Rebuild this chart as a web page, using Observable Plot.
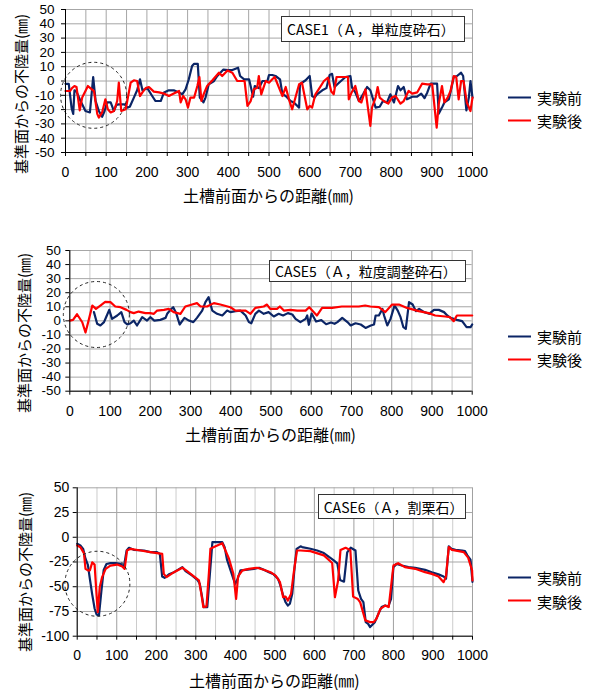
<!DOCTYPE html>
<html><head><meta charset="utf-8">
<script src="https://cdn.jsdelivr.net/npm/d3@7"></script>
<script src="https://cdn.jsdelivr.net/npm/@observablehq/plot@0.6"></script>
<style>
body{margin:0;background:#fff;}
#root{position:relative;width:594px;height:690px;overflow:hidden;font-family:"Noto Sans CJK JP",sans-serif;color:#000;background:#fff;}
.panel{position:absolute;left:0;}
.xt{position:absolute;transform:translate(-50%,-50%);font-size:16px;white-space:nowrap;line-height:16px;height:16px;}
.yt{position:absolute;transform:translate(-50%,-50%) rotate(-90deg);font-size:15px;white-space:nowrap;line-height:15px;height:15px;}
.box{position:absolute;border:1px solid #333;background:#fff;font-size:14px;box-sizing:border-box;padding-left:5px;display:flex;align-items:center;white-space:nowrap;line-height:1;}
.leg{position:absolute;font-size:15px;display:flex;align-items:center;white-space:nowrap;transform:translateY(-50%);line-height:1;}
.leg .sw{display:inline-block;width:23px;height:2px;margin-right:6px;}
</style></head><body><div id="root"></div><script>
// ---- data ----
const seriesNames = ["実験前", "実験後"];
const xAxisTitle = "土槽前面からの距離(㎜)";
const yAxisTitle = "基準面からの不陸量(㎜)";
const caseTitles = ["CASE1（Ａ，単粒度砕石）", "CASE5（Ａ，粒度調整砕石）", "CASE6（Ａ，割栗石）"];
const xLabelTicks = [0,100,200,300,400,500,600,700,800,900,1000];
const xMinorTicks = [0,50,100,150,200,250,300,350,400,450,500,550,600,650,700,750,800,850,900,950,1000];
const xHalfTicks = [50,150,250,350,450,550,650,750,850,950];
const yTicks50 = [-50,-40,-30,-20,-10,0,10,20,30,40,50];
const yTicks100 = [-100,-75,-50,-25,0,25,50];
const circleCenters = [[69,-10],[66,4.5],[51,-47]];

const case1Before = [[0,-2],[8,-2],[15,-19],[19,-23],[22,-6.5],[27,-7.4],[37,-14],[49,-21],[60,-22],[68,2.8],[74,-14],[82,-21],[90,-25],[96,-21],[102,-15],[111,-15],[119,-21],[125,-16.7],[131,-16.3],[145,-16.3],[152,-18.6],[158,-18],[168,-11.6],[176,-6.5],[183,1.2],[189,-6.5],[201,-5],[213,-10.5],[221,-14],[234,-14],[242,-8],[254,-6.5],[266,-6.5],[279,-8],[287,-9.3],[295,-5.8],[303,1.2],[311,10.5],[316,12],[325,12],[330,-11.6],[339,-15],[344,-11.6],[352,-2.3],[365,0],[373,3.5],[388,8],[399,7.7],[410,7.7],[424,9.3],[429,3.5],[439,1.2],[451,1.2],[461,-11],[465,-3.5],[475,-5],[484,0],[496,0],[500,4.2],[508,4.2],[516,3.5],[527,1.2],[533,-9.3],[541,-10.5],[553,-14],[561,-15],[574,-18.6],[576,-2.3],[581,-1.2],[590,0.5],[600,3.5],[606,-10.5],[612,-11.6],[618,-9.3],[631,-6.5],[641,-5],[649,4.2],[655,5],[661,-4.2],[672,-1.2],[688,2.8],[700,3.5],[704,-4.7],[712,-8],[721,-14],[731,-9.3],[741,-4.2],[749,-6.5],[762,-18.6],[772,-18],[780,-14],[790,-15],[798,-9.3],[807,-15],[817,-3.5],[823,-6.5],[831,-4.2],[839,-12.8],[852,-11],[864,-11],[874,-8.8],[882,-12],[889,-8],[897,-1.9],[905,-1.9],[913,-1.9],[917,-22.8],[925,-18.6],[931,-15],[942,-12.8],[947,-6.5],[954,2.8],[962,3.5],[972,5.8],[977,3.5],[985,-20.5],[991,-11.6],[995,0],[1000,-11.6]];
const case1After = [[0,-7],[11,-7],[16,-5],[22,-3.5],[27,-4.2],[35,-20.5],[41,-11.6],[49,-7],[55,-3.5],[61,-5],[70,-7],[78,-23],[82,-25.6],[90,-22],[98,-12.8],[104,-19.8],[111,-22],[119,-21],[127,-14],[131,-1.2],[137,-21],[148,-19.8],[160,-1.2],[168,0.5],[176,0],[183,-10.5],[189,-8],[197,-5],[205,-4.2],[217,-7.4],[230,-8],[242,-8.8],[254,-10.5],[266,-8.8],[279,-7],[283,-15],[289,-10.5],[295,-12.8],[301,-18.6],[307,-11.6],[316,-11.6],[324,-3.5],[329,2.8],[334,-14],[340,-8.8],[348,-3.5],[361,0.5],[377,5.8],[385,3.5],[398,7.4],[410,5.8],[422,0],[440,0],[447,-17.4],[455,-14],[463,-5.8],[471,-4.7],[475,3.5],[481,-9.3],[492,0],[500,-1.2],[508,1.2],[514,2.8],[525,-5],[533,-10.5],[541,-4.2],[549,-12.8],[557,-19.8],[566,-10.5],[574,-2.3],[581,-1.2],[594,-19.8],[600,-17.4],[606,-18.6],[614,-9.3],[622,-5.8],[635,0],[645,2.3],[653,-7.4],[659,-9.3],[666,2.8],[684,2.8],[694,2.8],[696,-12.8],[703,-8],[712,-3.5],[721,-14],[727,-15],[737,-5.8],[749,-31.4],[753,-18.6],[762,-11.6],[767,-4.2],[772,-11.6],[782,-14],[793,-15.8],[802,-11.6],[811,-10.5],[823,-15.8],[831,-14],[843,-7],[852,-8.8],[864,-8],[876,-1.9],[889,-2.3],[901,-2.3],[912,-32.6],[917,-16.3],[925,-3.5],[931,-15],[939,-11.6],[946,-7],[954,3.5],[960,2.8],[966,-12.8],[972,0],[978,0],[986,-15],[995,-21],[1000,-11.6]];

const case5Before = [[60,6.2],[68,-2.1],[76,-3.3],[85,-0.9],[91,3.1],[98,7.8],[105,1.4],[118,3.8],[128,6.2],[136,-0.9],[143,-2.6],[151,-1.7],[159,0.2],[167,-3.3],[180,2.6],[192,0.2],[200,2.6],[210,0.2],[225,0.7],[238,2.1],[242,5],[250,7.8],[257,9.7],[265,5],[273,-2.6],[285,2.1],[296,0.2],[307,-0.9],[316,2.1],[329,7.3],[337,13.3],[345,16.8],[354,7.3],[366,5],[379,3.8],[391,7.3],[399,6.2],[412,6.9],[424,7.3],[437,3.8],[445,-0.9],[451,-1.7],[461,5],[470,7.3],[482,5],[494,6.2],[507,3.1],[519,5],[530,3.8],[542,5.5],[553,4.5],[561,1.4],[573,-0.9],[586,1.4],[590,3.8],[594,-2.8],[601,5.2],[612,-0.5],[625,0.5],[637,-2.4],[649,-1.2],[658,-2.1],[665,-0.9],[677,2.1],[690,-0.9],[698,-3.3],[710,-1.7],[723,-2.6],[735,-5],[748,-3.3],[756,-2.6],[760,3.8],[768,3.8],[777,8.5],[781,3.8],[789,-3.3],[797,1.4],[807,10.9],[815,7.3],[822,2.6],[829,-4.5],[835,-5.7],[843,13.3],[852,11.6],[860,6.9],[868,8.5],[881,6.2],[893,5],[905,7.8],[917,7.8],[930,6.2],[938,3.8],[946,2.1],[962,0.7],[975,-0.2],[986,-4.5],[996,-4.5],[1000,-2.6]];
const case5After = [[0,0.2],[8,0.7],[18,4.7],[31,-1],[39,-8.3],[45,-1.7],[56,10.9],[65,8.5],[76,10.9],[88,13.5],[101,13.3],[113,10.2],[126,9.7],[141,7.8],[151,6.2],[159,5.5],[171,6.6],[188,5.5],[200,5.5],[209,5],[217,7.3],[234,7.8],[246,8.5],[258,6.2],[275,5],[287,10.2],[304,11.6],[316,12.6],[325,10.2],[341,10.2],[358,12.6],[374,11.6],[399,9.7],[412,7.3],[437,7.3],[449,5],[461,9.2],[482,10.2],[490,11.6],[498,8.5],[515,8.5],[522,10.2],[532,7.3],[548,7.8],[565,7.3],[586,7.3],[595,9.7],[614,3.8],[627,9.2],[652,9.2],[676,10.2],[718,10.2],[734,10.9],[747,10.2],[768,9.7],[784,6.2],[801,11.6],[818,11.6],[838,9.2],[867,6.9],[892,5.5],[908,3.8],[933,3.1],[945,2.6],[954,-0.2],[962,3.8],[974,3.8],[1000,3.8]];

const case6Before = [[0,-6.6],[8,-8.3],[15,-11.7],[21,-21.7],[27,-28],[32,-42],[38,-58],[44,-72],[49,-78],[55,-79],[61,-55],[67,-33],[74,-27],[84,-26.2],[97,-26.2],[110,-26.9],[118,-30],[125,-13.4],[131,-10.7],[143,-12.7],[169,-13.4],[185,-15],[202,-15],[209,-16.8],[215,-39.7],[221,-41],[232,-37.5],[245,-35.3],[266,-30.2],[274,-34.3],[291,-38.7],[304,-43],[310,-47],[316,-60.6],[320,-70.6],[329,-70.6],[336,-35.3],[342,-4.9],[354,-4.9],[367,-4.9],[373,-10],[379,-22.7],[388,-33.5],[396,-43],[400,-47],[405,-43],[413,-33.5],[426,-32.9],[447,-31.9],[460,-30.8],[472,-32.9],[485,-35.3],[497,-37.5],[508,-41.9],[514,-48.6],[521,-58.8],[527,-65.6],[533,-69],[538,-67.2],[544,-57.2],[550,-30.2],[555,-11.7],[565,-9.2],[569,-9.9],[590,-11.6],[607,-13.4],[624,-16],[637,-19.9],[649,-23.3],[658,-26.4],[665,-43.2],[675,-44.9],[683,-15.3],[692,-10.6],[704,-13.4],[711,-53.8],[718,-62.2],[724,-65.6],[730,-85.8],[736,-87.5],[741,-90.8],[753,-85.8],[762,-77.4],[770,-70.6],[779,-68.9],[787,-70],[794,-62.2],[800,-30.2],[808,-26.9],[821,-28.5],[838,-30.2],[855,-30.8],[880,-32.9],[897,-35.3],[914,-37.5],[927,-39.6],[933,-42],[940,-9.2],[947,-11.6],[957,-12.7],[974,-13.4],[981,-14],[987,-18.3],[995,-22.7],[1000,-45]];
const case6After = [[0,-8.3],[8,-10],[17,-16],[21,-32],[27,-33.5],[32,-33.5],[38,-25.4],[44,-27.6],[49,-58.8],[52,-75.6],[57,-50.3],[63,-40.3],[72,-31.9],[84,-28.6],[101,-27.6],[114,-29.6],[120,-32],[126,-13.4],[135,-11.7],[160,-13.4],[185,-15],[215,-16.8],[219,-37],[226,-40.3],[245,-35.3],[266,-30.8],[278,-34.3],[295,-39.6],[308,-43.6],[314,-57.2],[319,-70.6],[327,-69.9],[333,-37],[337,-11.7],[350,-9.2],[367,-6],[375,-13.4],[384,-21.7],[395,-37],[402,-62.2],[407,-39.6],[418,-33.5],[434,-31.9],[455,-30.8],[472,-32.9],[489,-35.3],[502,-38.7],[513,-45.4],[521,-60.6],[527,-59.9],[533,-64],[541,-57.2],[548,-35.3],[556,-13.4],[565,-13.4],[590,-14],[624,-18.3],[645,-26],[652,-60.6],[660,-43.8],[666,-13],[679,-10.6],[691,-13],[698,-60],[710,-62.5],[716,-65.8],[729,-84],[741,-85.8],[750,-85.8],[757,-82.4],[767,-72.4],[779,-69],[788,-70.6],[800,-28.6],[812,-26.2],[829,-30.2],[855,-31.9],[880,-35.3],[897,-37],[914,-39.6],[927,-45.4],[933,-39.6],[940,-10],[948,-12.7],[965,-14],[978,-15],[989,-20.6],[999,-33.5],[1000,-43.6]];

// ---- layout / style ----
const BLUE = "#0b2566", RED = "#ff0000";
const panels = [
  {top:0, h:182, mt:9, mb:30, ml:65, mr:122, yDomain:[-50,50], yTicks:yTicks50, yfs:13.5, before:case1Before, after:case1After, circle:circleCenters[0], r:33, ypad:11, xpad:15, majorV:"#a6a6a6", minorV:"#a6a6a6",
   title:caseTitles[0], box:[281,16,184,26], yt:[20,94], xt:[268.5,195], leg:[97,120]},
  {top:240, h:181, mt:10, mb:30.3, ml:69.3, mr:122.3, yDomain:[-50,50], yTicks:yTicks50, yfs:13.3, before:case5Before, after:case5After, circle:circleCenters[1], r:33, ypad:9, xpad:15, majorV:"#a0a0a0", minorV:"#c8c8c8",
   title:caseTitles[1], box:[269,260,197,22], yt:[23,333], xt:[270.5,434], leg:[336,359]},
  {top:477, h:188.7, mt:10.3, mb:30, ml:76.7, mr:122, yDomain:[-100,50], yTicks:yTicks100, yfs:14, before:case6Before, after:case6After, circle:circleCenters[2], r:32.5, ypad:8, xpad:14.3, majorV:"#a0a0a0", minorV:"#cccccc",
   title:caseTitles[2], box:[317.7,494,148,25.3], yt:[24,572], xt:[274.3,679.5], leg:[577,600.5]}
];

const root = document.getElementById("root");
for (const p of panels) {
  const chart = Plot.plot({
    width: 594, height: p.h,
    marginTop: p.mt, marginBottom: p.mb, marginLeft: p.ml, marginRight: p.mr,
    x: {domain: [0, 1000]},
    y: {domain: p.yDomain},
    style: {fontFamily: "'Liberation Sans', Arial, sans-serif", fontSize: "14px", color: "#000", background: "transparent", overflow: "visible"},
    marks: [
      Plot.ruleX(xHalfTicks, {stroke: p.minorV, strokeWidth: 1}),
      Plot.ruleX(xLabelTicks, {stroke: p.majorV, strokeWidth: 1}),
      Plot.ruleY(p.yTicks, {stroke: "#a6a6a6", strokeWidth: 1}),
      Plot.line(p.before, {x: d => d[0], y: d => d[1], stroke: BLUE, strokeWidth: 2.2, strokeLinejoin: "round"}),
      Plot.line(p.after, {x: d => d[0], y: d => d[1], stroke: RED, strokeWidth: 2.2, strokeLinejoin: "round"}),
      Plot.dot([p.circle], {x: d => d[0], y: d => d[1], r: p.r, fill: "none", stroke: "#222", strokeWidth: 1, strokeDasharray: "3,3"}),
      Plot.ruleX([0], {stroke: "#000", strokeWidth: 1}),
      Plot.ruleY([p.yDomain[0]], {stroke: "#000", strokeWidth: 1}),
      Plot.axisY(p.yTicks, {tickSize: 4, tickPadding: p.ypad - 4, tickFormat: d => String(d), label: null, fontSize: p.yfs}),
      Plot.axisX(xMinorTicks, {tickSize: 4, fill: "none", label: null}),
      Plot.axisX(xLabelTicks, {tickSize: 0, tickPadding: p.xpad, tickFormat: d => String(d), label: null, fontSize: 14})
    ]
  });
  const wrap = document.createElement("div");
  wrap.className = "panel";
  wrap.style.top = p.top + "px";
  wrap.appendChild(chart);
  root.appendChild(wrap);

  const box = document.createElement("div");
  box.className = "box";
  box.style.left = p.box[0] + "px"; box.style.top = p.box[1] + "px";
  box.style.width = p.box[2] + "px"; box.style.height = p.box[3] + "px";
  box.textContent = p.title;
  root.appendChild(box);

  const yt = document.createElement("div");
  yt.className = "yt"; yt.style.left = p.yt[0] + "px"; yt.style.top = p.yt[1] + "px";
  yt.textContent = yAxisTitle; root.appendChild(yt);

  const xt = document.createElement("div");
  xt.className = "xt"; xt.style.left = p.xt[0] + "px"; xt.style.top = p.xt[1] + "px";
  xt.textContent = xAxisTitle; root.appendChild(xt);

  [BLUE, RED].forEach((c, i) => {
    const lg = document.createElement("div");
    lg.className = "leg"; lg.style.left = "508px"; lg.style.top = p.leg[i] + "px";
    lg.innerHTML = `<span class="sw" style="background:${c}"></span><span>${seriesNames[i]}</span>`;
    root.appendChild(lg);
  });
}
</script></body></html>
